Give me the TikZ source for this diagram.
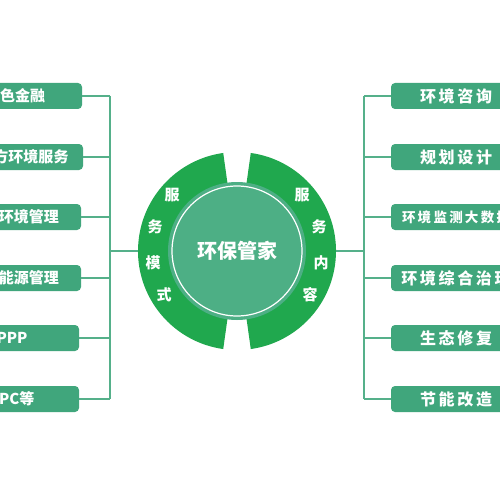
\documentclass[tikz,border=0pt]{standalone}
\usepackage{fontspec}
\setmainfont{Noto Sans CJK SC}
\definecolor{boxg}{HTML}{40A67C}
\definecolor{ringg}{HTML}{20A84E}
\definecolor{discg}{HTML}{4DAF85}
\definecolor{lineg}{HTML}{55B08A}
\begin{document}
\begin{tikzpicture}[x=1pt,y=-1pt,
  boxbase/.style={fill=boxg, rounded corners=4pt, minimum height=26pt, inner sep=0pt, text=white, font=\fontsize{15}{15}\selectfont\bfseries},
  lbox/.style={boxbase, minimum width=134pt},
  rbox/.style={boxbase, minimum width=130pt, font=\fontsize{16}{16}\selectfont\bfseries},
  conn/.style={draw=lineg, line width=1.3pt},
  ringtxt/.style={text=white, inner sep=0pt, font=\fontsize{15}{15}\selectfont\bfseries}]
\useasboundingbox (0,0) rectangle (500,500);
\fill[white] (0,0) rectangle (500,500);
\clip (0,0) rectangle (500,500);
% centre
\coordinate (c) at (237,251);
\fill[ringg] (c) -- ++(98:99) arc[start angle=98, end angle=262, radius=99] -- cycle;
\fill[ringg] (c) -- ++(-82:99) arc[start angle=-82, end angle=82, radius=99] -- cycle;
\node[circle, minimum size=198pt, inner sep=0pt] (ring) at (c) {};
\node[circle, fill=discg, minimum size=138pt, inner sep=0pt] (disc) at (c) {};
\draw[white, line width=1.2pt] (c) circle[radius=65];
\node[text=white, inner sep=0pt, font=\fontsize{20}{20}\selectfont\bfseries] (title) at (c) {环保管家};
% ring texts
\node[ringtxt] (m1) at (172,195) {服};
\node[ringtxt] (m2) at (155,227) {务};
\node[ringtxt] (m3) at (153,263) {模};
\node[ringtxt] (m4) at (164,295) {式};
\node[ringtxt] (n1) at (302,195) {服};
\node[ringtxt] (n2) at (319,227) {务};
\node[ringtxt] (n3) at (321,263) {内};
\node[ringtxt] (n4) at (310,295) {容};
% left boxes
\node[lbox] (l1) at (15,96) {绿色金融};
\node[lbox] (l2) at (16,157) {第三方环境服务};
\node[lbox] (l3) at (14,217) {合同环境管理};
\node[lbox] (l4) at (14,278) {合同能源管理};
\node[lbox] (l5) at (12,338) {PPP};
\node[lbox] (l6) at (12,399) {EPC等};
% right boxes
\node[rbox] (r1) at (456,96) {环\,境\,咨\,询};
\node[rbox] (r2) at (456,157) {规\,划\,设\,计};
\node[rbox, font=\fontsize{13.5}{13.5}\selectfont\bfseries] (r3) at (456,217) {环\,境\,监\,测\,大\,数\,据};
\node[rbox] (r4) at (456,278) {环\,境\,综\,合\,治\,理};
\node[rbox] (r5) at (456,338) {生\,态\,修\,复};
\node[rbox] (r6) at (456,399) {节\,能\,改\,造};
% trunk coordinates
\foreach \i/\y in {1/96,2/157,3/217,4/278,5/338,6/399} {
  \coordinate (lt\i) at (110,\y);
  \coordinate (rt\i) at (364,\y);
}
\coordinate (ltc) at (110,251);
\coordinate (rtc) at (364,251);
\draw[conn] (lt1) -- (lt6);
\draw[conn] (rt1) -- (rt6);
\foreach \i in {1,...,6} {
  \draw[conn] (l\i.east) -- (lt\i);
  \draw[conn] (rt\i) -- (r\i.west);
}
\draw[conn] (ltc) -- (ring.west);
\draw[conn] (ring.east) -- (rtc);
\end{tikzpicture}
\end{document}
